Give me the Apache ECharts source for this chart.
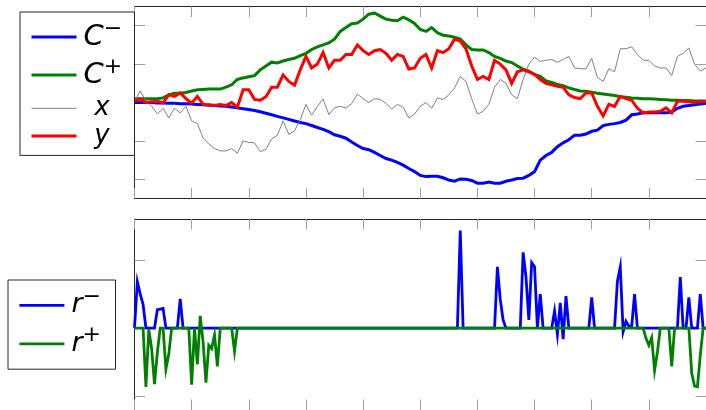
<!DOCTYPE html>
<html lang="en">
<head>
<meta charset="UTF-8">
<title>C-, C+, x, y / r-, r+</title>
<style>
  html, body { margin: 0; padding: 0; background: #fff; }
  #chart { width: 706px; height: 410px; }
</style>
</head>
<body>
<div id="chart"></div>
<script src="https://cdn.jsdelivr.net/npm/echarts@6/dist/echarts.min.js"></script>
<script>
// top panel, sampled every 0.1 on t = 0..10
const stepTop = 0.1;
const cMinus = [
  0, 0, 0, 0, -0.01, -0.01, -0.02, -0.02, -0.03, -0.03,
  -0.04, -0.05, -0.06, -0.07, -0.08, -0.09, -0.1, -0.12, -0.14, -0.16,
  -0.18, -0.21, -0.24, -0.28, -0.32, -0.36, -0.4, -0.44, -0.48, -0.52,
  -0.55, -0.6, -0.65, -0.7, -0.76, -0.84, -0.88, -0.93, -1.03, -1.12,
  -1.2, -1.23, -1.3, -1.38, -1.46, -1.5, -1.56, -1.63, -1.72, -1.8,
  -1.9, -1.93, -1.92, -1.92, -1.96, -2.02, -2.05, -1.99, -2.0, -2.03,
  -2.1, -2.1, -2.07, -2.1, -2.1, -2.05, -2.02, -1.98, -1.97, -1.9,
  -1.8, -1.5, -1.38, -1.3, -1.15, -1.05, -0.97, -0.85, -0.85, -0.82,
  -0.75, -0.72, -0.6, -0.57, -0.55, -0.52, -0.46, -0.32, -0.3, -0.27,
  -0.27, -0.27, -0.27, -0.27, -0.25, -0.15, -0.1, -0.08, -0.06, -0.04,
  -0.02
];
const cPlus = [
  0.1, 0.1, 0.1, 0.1, 0.1, 0.12, 0.2, 0.24, 0.24, 0.26,
  0.3, 0.33, 0.34, 0.35, 0.35, 0.35, 0.4, 0.46, 0.6, 0.64,
  0.67, 0.7, 0.85, 0.95, 1.05, 1.03, 1.08, 1.12, 1.15, 1.22,
  1.28, 1.38, 1.45, 1.5, 1.55, 1.65, 1.85, 1.95, 2.05, 2.07,
  2.17, 2.3, 2.33, 2.25, 2.17, 2.14, 2.13, 2.22, 2.15, 2.06,
  1.9, 1.85, 1.95, 1.82, 1.75, 1.73, 1.7, 1.65, 1.5, 1.38,
  1.37, 1.37, 1.3, 1.2, 1.15, 1.08, 1.04, 0.95, 0.87, 0.82,
  0.73, 0.68, 0.56, 0.52, 0.47, 0.44, 0.38, 0.34, 0.3, 0.29,
  0.27, 0.24, 0.22, 0.2, 0.18, 0.15, 0.14, 0.12, 0.11, 0.1,
  0.1, 0.09, 0.08, 0.07, 0.06, 0.06, 0.05, 0.05, 0.04, 0.04,
  0.03
];
const xs = [
  0.03, 0.3, 0.05, -0.1, -0.3, -0.15, -0.4, -0.15, -0.27, -0.1,
  -0.48, -0.55, -0.92, -1.08, -1.2, -1.26, -1.26, -1.2, -1.32, -1.0,
  -1.04, -1.05, -1.28, -1.22, -0.95, -0.85, -0.48, -0.83, -0.74, -0.45,
  -0.05, -0.33, -0.1, 0.09, -0.31, -0.14, -0.1, -0.14, -0.03, 0.22,
  0.1, 0.0, 0.1, 0.08, -0.02, -0.17, -0.05, -0.12, -0.4, -0.3,
  -0.1, 0.0, -0.15, 0.12, 0.08, 0.2, 0.38, 0.68, 0.55, 0.1,
  -0.3, -0.23, -0.05, 0.4, 0.6, 0.5, 0.2, 0.1, 0.6, 1.0,
  1.18, 1.07, 1.1, 1.12, 1.05, 1.12, 1.2, 0.9, 0.88, 0.88,
  1.15, 0.65, 0.55, 0.88, 0.8, 1.4, 1.4, 1.45, 1.25, 1.1,
  1.1, 0.95, 0.9, 0.9, 0.7, 1.2, 1.28, 1.42, 1.0, 0.82,
  0.9
];
const ys = [
  0.03, 0.1, 0.0, 0.02, 0.03, -0.01, 0.2, 0.16, 0.25, 0.1,
  -0.02, 0.16, -0.05, -0.06, -0.08, -0.05, -0.08, 0.0, -0.12, 0.33,
  0.33, 0.08, 0.06, 0.15, 0.4, 0.4, 0.72, 0.55, 0.45, 0.85,
  1.2, 0.9, 1.0, 1.3, 0.9, 1.1, 1.1, 1.25, 1.25, 1.5,
  1.35, 1.25, 1.35, 1.38, 1.28, 1.1, 1.25, 1.2, 0.87, 0.9,
  1.15, 1.25, 0.9, 1.35, 1.3, 1.4, 1.65, 1.6, 1.4, 0.95,
  0.6, 0.68, 0.6, 1.1, 1.0, 0.85, 0.5, 0.8, 0.85, 0.8,
  0.73, 0.6, 0.5, 0.46, 0.42, 0.4, 0.2, 0.13, 0.1, 0.25,
  0.25, -0.1, -0.35, -0.05, -0.1, 0.16, 0.1, 0.06, -0.15, -0.27,
  -0.25, -0.25, -0.23, -0.14, -0.27, 0.03, 0.03, 0.02, 0.0, 0.03,
  0.03
];

// bottom panel, sampled every 0.05 on t = 0..10
const stepBottom = 0.05;
const rMinus = [
  0, 0.68, 0.5, 0.35, 0, 0, 0, 0, 0.27, 0.28, 0.29, 0, 0, 0, 0, 0, 0.43, 0, 0, 0,
  0, 0, 0, 0, 0, 0, 0, 0, 0, 0, 0, 0, 0, 0, 0, 0, 0, 0, 0, 0,
  0, 0, 0, 0, 0, 0, 0, 0, 0, 0, 0, 0, 0, 0, 0, 0, 0, 0, 0, 0,
  0, 0, 0, 0, 0, 0, 0, 0, 0, 0, 0, 0, 0, 0, 0, 0, 0, 0, 0, 0,
  0, 0, 0, 0, 0, 0, 0, 0, 0, 0, 0, 0, 0, 0, 0, 0, 0, 0, 0, 0,
  0, 0, 0, 0, 0, 0, 0, 0, 0, 0, 0, 0, 0, 0, 1.43, 0, 0, 0, 0, 0,
  0, 0, 0, 0, 0, 0, 0, 0.9, 0.42, 0.12, 0, 0, 0, 0, 0, 0, 1.11, 0.75, 0.12, 0.96,
  0.9, 0, 0.5, 0, 0, 0, 0, 0.25, -0.09, 0.37, -0.16, 0.47, 0, 0, 0, 0, 0, 0, 0, 0,
  0.45, 0, 0, 0, 0, 0, 0, 0, 0, 0.69, 0.9, -0.05, 0.1, 0.03, 0.03, 0.5, 0, 0, 0, 0,
  0, 0, 0, 0, 0, 0, 0, 0, 0, 0, 0, 0.75, 0, 0, 0.45, 0, 0, 0, 0.5, 0,
  0
];
const rPlus = [
  0, 0, 0, 0, -0.86, -0.02, -0.3, -0.82, -0.35, 0, 0, -0.6, -0.38, 0, 0, 0, 0, 0, 0, 0,
  -0.83, 0, -0.53, 0.18, -0.2, -0.8, -0.25, -0.3, -0.1, -0.56, 0, 0, 0, 0, 0, -0.34, 0, 0, 0, 0,
  0, 0, 0, 0, 0, 0, 0, 0, 0, 0, 0, 0, 0, 0, 0, 0, 0, 0, 0, 0,
  0, 0, 0, 0, 0, 0, 0, 0, 0, 0, 0, 0, 0, 0, 0, 0, 0, 0, 0, 0,
  0, 0, 0, 0, 0, 0, 0, 0, 0, 0, 0, 0, 0, 0, 0, 0, 0, 0, 0, 0,
  0, 0, 0, 0, 0, 0, 0, 0, 0, 0, 0, 0, 0, 0, 0, 0, 0, 0, 0, 0,
  0, 0, 0, 0, 0, 0, 0, 0, 0, 0, 0, 0, 0, 0, 0, 0, 0, 0, 0, 0,
  0, 0, 0, 0, 0, 0, 0, 0, 0, 0, 0, 0, 0, 0, 0, 0, 0, 0, 0, 0,
  0, 0, 0, 0, 0, 0, 0, 0, 0, 0, 0, 0, 0, 0, 0, 0, 0, 0, 0, -0.15,
  -0.25, -0.14, -0.62, -0.35, 0, 0, 0, 0, -0.56, 0, 0, 0, 0, 0, 0, -0.66, -0.85, -0.86, -0.4, 0,
  0
];

const xTicks = [0, 1, 2, 3, 4, 5, 6, 7, 8, 9, 10];
const yTicksTop = [-2, -1, 0, 1, 2];
const yTicksBottom = [-1, 0, 1];

function pts(values, step) {
  return values.map((v, i) => [+(i * step).toFixed(2), v]);
}

const frameLine = { color: '#262626', width: 1 };
const tickLine = { color: '#a0a0a0', width: 1 };

function axis(grid, pos, min, max, ticks) {
  return {
    type: 'value',
    gridIndex: grid,
    position: pos,
    min: min,
    max: max,
    axisLine: { show: true, onZero: false, lineStyle: frameLine },
    axisTick: { show: true, inside: true, length: 10.5, lineStyle: tickLine, customValues: ticks },
    axisLabel: { show: false, customValues: ticks },
    splitLine: { show: false }
  };
}

const font = 'DejaVu Sans';
const clear = 'rgba(0,0,0,0)';

// legend rows get their height from a transparent token box
const legendBase = {
  orient: 'vertical',
  itemGap: 0, itemWidth: 45, itemHeight: 14,
  backgroundColor: '#fff', borderColor: '#262626', borderWidth: 1, borderRadius: 0,
  selectedMode: false,
  itemStyle: { opacity: 0, borderWidth: 0 },
  lineStyle: { width: 'inherit' }
};

const chart = echarts.init(document.getElementById('chart'));
chart.setOption({
  animation: false,
  backgroundColor: '#fff',
  grid: [
    { left: 134.5, right: -4.5, top: 6.5, bottom: 211.5 },
    { left: 134.5, right: -4.5, top: 219, bottom: -1.5 }
  ],
  xAxis: [
    axis(0, 'bottom', 0, 10, xTicks),
    axis(0, 'top', 0, 10, xTicks),
    axis(1, 'bottom', 0, 10, xTicks),
    axis(1, 'top', 0, 10, xTicks)
  ],
  yAxis: [
    axis(0, 'left', -2.5, 2.5, yTicksTop),
    axis(0, 'right', -2.5, 2.5, yTicksTop),
    axis(1, 'left', -1.2, 1.6, yTicksBottom),
    axis(1, 'right', -1.2, 1.6, yTicksBottom)
  ],
  legend: [
    Object.assign({}, legendBase, {
      left: 20, top: 12,
      padding: [6, 12, 6, 10],
      data: ['C-', 'C+', 'x', 'y'],
      formatter: function (name) {
        if (name === 'C-') return '{c|C}{s|\u2212}';
        if (name === 'C+') return '{c|C}{s|+}';
        if (name === 'x') return '{v|x}';
        return '{w|y}';
      },
      textStyle: {
        color: '#000', fontFamily: font,
        rich: {
          c: { fontFamily: font, fontStyle: 'italic', fontSize: 29, height: 38, lineHeight: 38, padding: [0, 0, 0, 2], backgroundColor: clear, color: '#000' },
          s: { fontFamily: font, fontSize: 22, lineHeight: 24, verticalAlign: 'top', color: '#000' },
          v: { fontFamily: font, fontStyle: 'italic', fontSize: 26, height: 28.6, lineHeight: 28.6, width: 41, align: 'center', backgroundColor: clear, color: '#000' },
          w: { fontFamily: font, fontStyle: 'italic', fontSize: 26, height: 26.8, lineHeight: 26.8, width: 41, align: 'center', backgroundColor: clear, color: '#000' }
        }
      }
    }),
    Object.assign({}, legendBase, {
      left: 8, top: 280,
      padding: [6, 11, 6, 10],
      data: ['r-', 'r+'],
      formatter: function (name) {
        return name === 'r-' ? '{r|r}{s|\u2212}' : '{r|r}{s|+}';
      },
      textStyle: {
        color: '#000', fontFamily: font,
        rich: {
          r: { fontFamily: font, fontStyle: 'italic', fontSize: 27, height: 38.6, lineHeight: 38.6, padding: [0, 0, 0, 2], backgroundColor: clear, color: '#000' },
          s: { fontFamily: font, fontSize: 22, lineHeight: 24, verticalAlign: 'top', width: 22, color: '#000' }
        }
      }
    })
  ],
  series: [
    { name: 'C-', type: 'line', xAxisIndex: 0, yAxisIndex: 0, data: pts(cMinus, stepTop), symbol: 'none', color: '#0000ff', lineStyle: { width: 3, join: 'miter' } },
    { name: 'C+', type: 'line', xAxisIndex: 0, yAxisIndex: 0, data: pts(cPlus, stepTop), symbol: 'none', color: '#008000', lineStyle: { width: 3, join: 'miter' } },
    { name: 'x', type: 'line', xAxisIndex: 0, yAxisIndex: 0, data: pts(xs, stepTop), symbol: 'none', color: '#808080', lineStyle: { width: 1 } },
    { name: 'y', type: 'line', xAxisIndex: 0, yAxisIndex: 0, data: pts(ys, stepTop), symbol: 'none', color: '#ff0000', lineStyle: { width: 3, join: 'miter' } },
    { name: 'r-', type: 'line', xAxisIndex: 2, yAxisIndex: 2, data: pts(rMinus, stepBottom), symbol: 'none', color: '#0000ff', lineStyle: { width: 2.8, join: 'miter' } },
    { name: 'r+', type: 'line', xAxisIndex: 2, yAxisIndex: 2, data: pts(rPlus, stepBottom), symbol: 'none', color: '#008000', lineStyle: { width: 2.8, join: 'miter' } }
  ]
});
</script>
</body>
</html>
